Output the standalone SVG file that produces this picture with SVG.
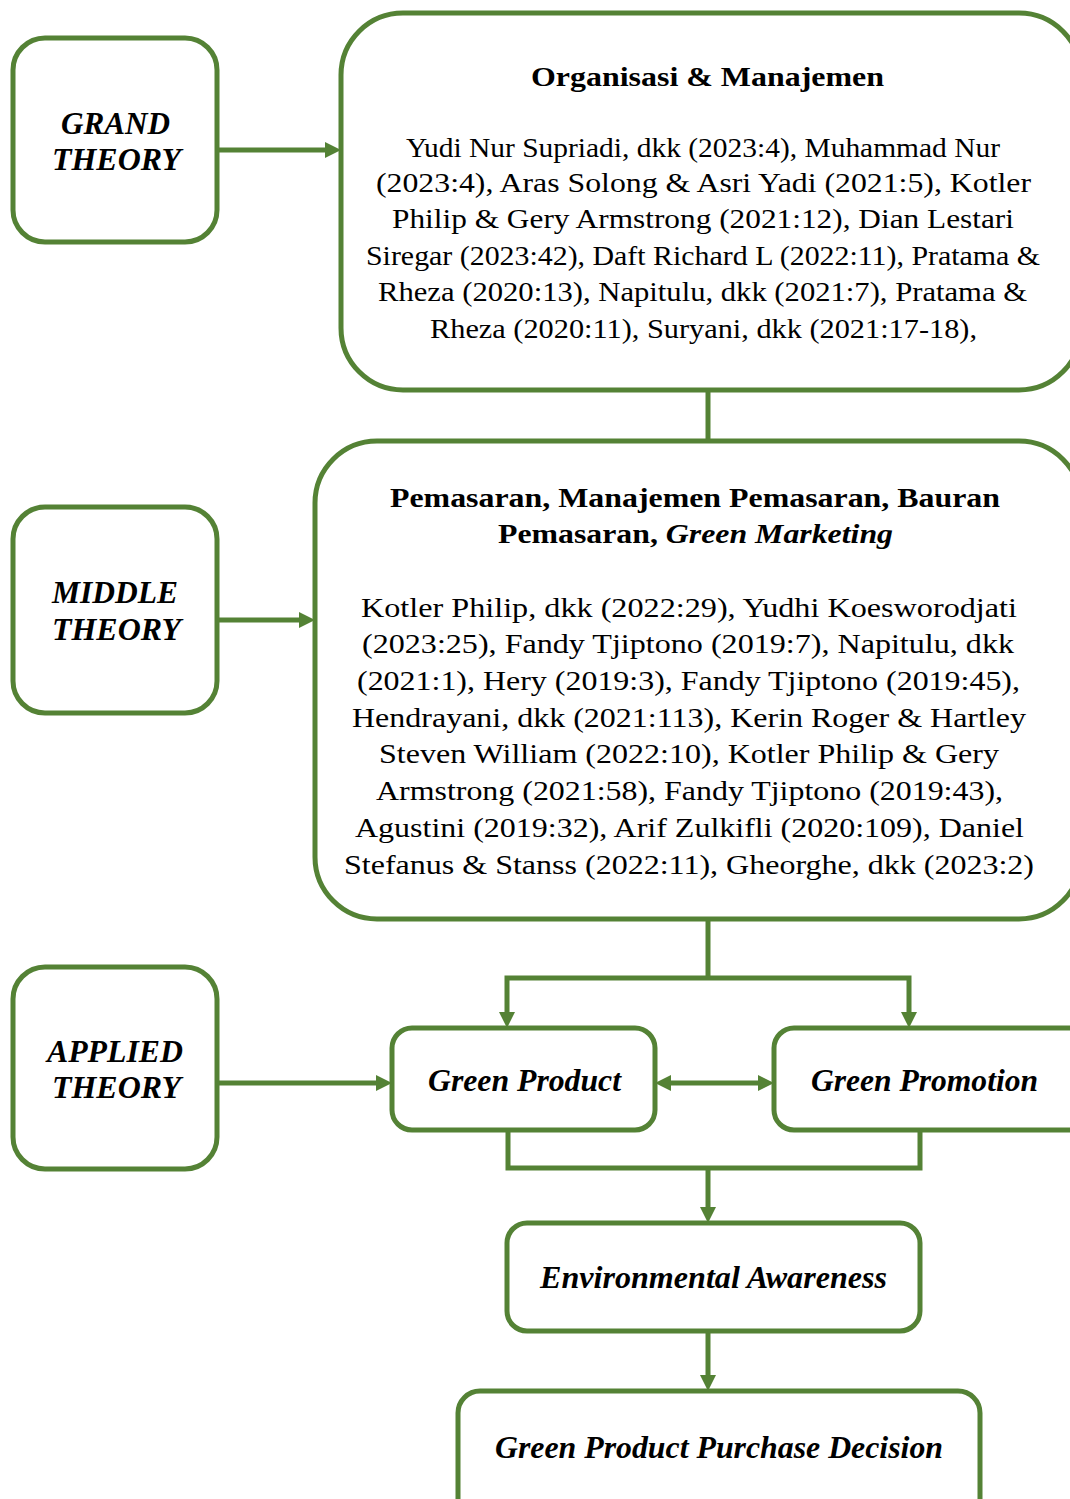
<svg xmlns="http://www.w3.org/2000/svg" width="1070" height="1499" viewBox="0 0 1070 1499">
<style>
.box{fill:#fff;stroke:#548235;stroke-width:5}
.ln{fill:none;stroke:#548235;stroke-width:5}
.t{font-family:'Times New Roman','Liberation Serif',Times,serif;font-size:28px;fill:#000}
.b{font-weight:bold}
.bi{font-weight:bold;font-style:italic}
.lab{font-family:'Times New Roman','Liberation Serif',Times,serif;font-size:31px;font-weight:bold;font-style:italic;fill:#000}
</style>
<defs>
<marker id="ah" markerUnits="userSpaceOnUse" markerWidth="18" markerHeight="18" viewBox="0 0 18 18" refX="5" refY="9" orient="auto-start-reverse">
<path d="M0,1 L16,9 L0,17 z" fill="#548235"/>
</marker>
</defs>
<g id="connectors">
<line class="ln" x1="217" y1="150" x2="330" y2="150" marker-end="url(#ah)"/>
<line class="ln" x1="708" y1="390" x2="708" y2="441"/>
<line class="ln" x1="217" y1="620" x2="304" y2="620" marker-end="url(#ah)"/>
<polyline class="ln" points="708,919 708,978"/>
<polyline class="ln" points="507,1017 507,978 909,978 909,1017" marker-start="url(#ah)" marker-end="url(#ah)"/>
<line class="ln" x1="217" y1="1083" x2="381" y2="1083" marker-end="url(#ah)"/>
<line class="ln" x1="666" y1="1083" x2="763" y2="1083" marker-start="url(#ah)" marker-end="url(#ah)"/>
<polyline class="ln" points="508,1130 508,1168 920,1168 920,1130"/>
<line class="ln" x1="708" y1="1168" x2="708" y2="1212" marker-end="url(#ah)"/>
<line class="ln" x1="708" y1="1331" x2="708" y2="1380" marker-end="url(#ah)"/>
</g>
<g id="grand">
<rect class="box" x="13" y="38" width="204" height="204" rx="32"/>
<text class="lab" x="61" y="134" textLength="109" lengthAdjust="spacingAndGlyphs">GRAND</text>
<text class="lab" x="52" y="170" textLength="129" lengthAdjust="spacingAndGlyphs">THEORY</text>
</g>
<g id="organisasi">
<rect class="box" x="341" y="13" width="740" height="377" rx="62"/>
<text class="t b" x="531" y="86" textLength="353" lengthAdjust="spacingAndGlyphs">Organisasi &amp; Manajemen</text>
<text class="t" x="406" y="157" textLength="594" lengthAdjust="spacingAndGlyphs">Yudi Nur Supriadi, dkk (2023:4), Muhammad Nur</text>
<text class="t" x="376" y="192" textLength="655" lengthAdjust="spacingAndGlyphs">(2023:4), Aras Solong &amp; Asri Yadi (2021:5), Kotler</text>
<text class="t" x="392" y="228" textLength="622" lengthAdjust="spacingAndGlyphs">Philip &amp; Gery Armstrong (2021:12), Dian Lestari</text>
<text class="t" x="366" y="265" textLength="674" lengthAdjust="spacingAndGlyphs">Siregar (2023:42), Daft Richard L (2022:11), Pratama &amp;</text>
<text class="t" x="378" y="301" textLength="649" lengthAdjust="spacingAndGlyphs">Rheza (2020:13), Napitulu, dkk (2021:7), Pratama &amp;</text>
<text class="t" x="430" y="338" textLength="547" lengthAdjust="spacingAndGlyphs">Rheza (2020:11), Suryani, dkk (2021:17-18),</text>
</g>
<g id="middle">
<rect class="box" x="13" y="507" width="204" height="206" rx="32"/>
<text class="lab" x="52" y="603" textLength="126" lengthAdjust="spacingAndGlyphs">MIDDLE</text>
<text class="lab" x="52" y="640" textLength="129" lengthAdjust="spacingAndGlyphs">THEORY</text>
</g>
<g id="pemasaran">
<rect class="box" x="315" y="441" width="766" height="478" rx="62"/>
<text class="t b" x="390" y="507" textLength="610" lengthAdjust="spacingAndGlyphs">Pemasaran, Manajemen Pemasaran, Bauran</text>
<text class="t b" x="498" y="543" textLength="395" lengthAdjust="spacingAndGlyphs">Pemasaran, <tspan class="bi">Green Marketing</tspan></text>
<text class="t" x="361" y="617" textLength="656" lengthAdjust="spacingAndGlyphs">Kotler Philip, dkk (2022:29), Yudhi Koesworodjati</text>
<text class="t" x="362" y="653" textLength="652" lengthAdjust="spacingAndGlyphs">(2023:25), Fandy Tjiptono (2019:7), Napitulu, dkk</text>
<text class="t" x="357" y="690" textLength="663" lengthAdjust="spacingAndGlyphs">(2021:1), Hery (2019:3), Fandy Tjiptono (2019:45),</text>
<text class="t" x="352" y="727" textLength="674" lengthAdjust="spacingAndGlyphs">Hendrayani, dkk (2021:113), Kerin Roger &amp; Hartley</text>
<text class="t" x="379" y="763" textLength="620" lengthAdjust="spacingAndGlyphs">Steven William (2022:10), Kotler Philip &amp; Gery</text>
<text class="t" x="376" y="800" textLength="627" lengthAdjust="spacingAndGlyphs">Armstrong (2021:58), Fandy Tjiptono (2019:43),</text>
<text class="t" x="355" y="837" textLength="669" lengthAdjust="spacingAndGlyphs">Agustini (2019:32), Arif Zulkifli (2020:109), Daniel</text>
<text class="t" x="344" y="874" textLength="690" lengthAdjust="spacingAndGlyphs">Stefanus &amp; Stanss (2022:11), Gheorghe, dkk (2023:2)</text>
</g>
<g id="applied">
<rect class="box" x="13" y="967" width="204" height="202" rx="32"/>
<text class="lab" x="47" y="1062" textLength="136" lengthAdjust="spacingAndGlyphs">APPLIED</text>
<text class="lab" x="52" y="1098" textLength="129" lengthAdjust="spacingAndGlyphs">THEORY</text>
</g>
<g id="green-product">
<rect class="box" x="392" y="1028" width="263" height="102" rx="20"/>
<text class="lab" x="428" y="1091" textLength="193" lengthAdjust="spacingAndGlyphs">Green Product</text>
</g>
<g id="green-promotion">
<rect class="box" x="774" y="1028" width="320" height="102" rx="20"/>
<text class="lab" x="811" y="1091" textLength="227" lengthAdjust="spacingAndGlyphs">Green Promotion</text>
</g>
<g id="environmental-awareness">
<rect class="box" x="507" y="1223" width="413" height="108" rx="20"/>
<text class="lab" x="540" y="1288" textLength="347" lengthAdjust="spacingAndGlyphs">Environmental Awareness</text>
</g>
<g id="purchase-decision">
<rect class="box" x="458" y="1391" width="522" height="130" rx="22"/>
<text class="lab" x="495" y="1458" textLength="448" lengthAdjust="spacingAndGlyphs">Green Product Purchase Decision</text>
</g>
</svg>
